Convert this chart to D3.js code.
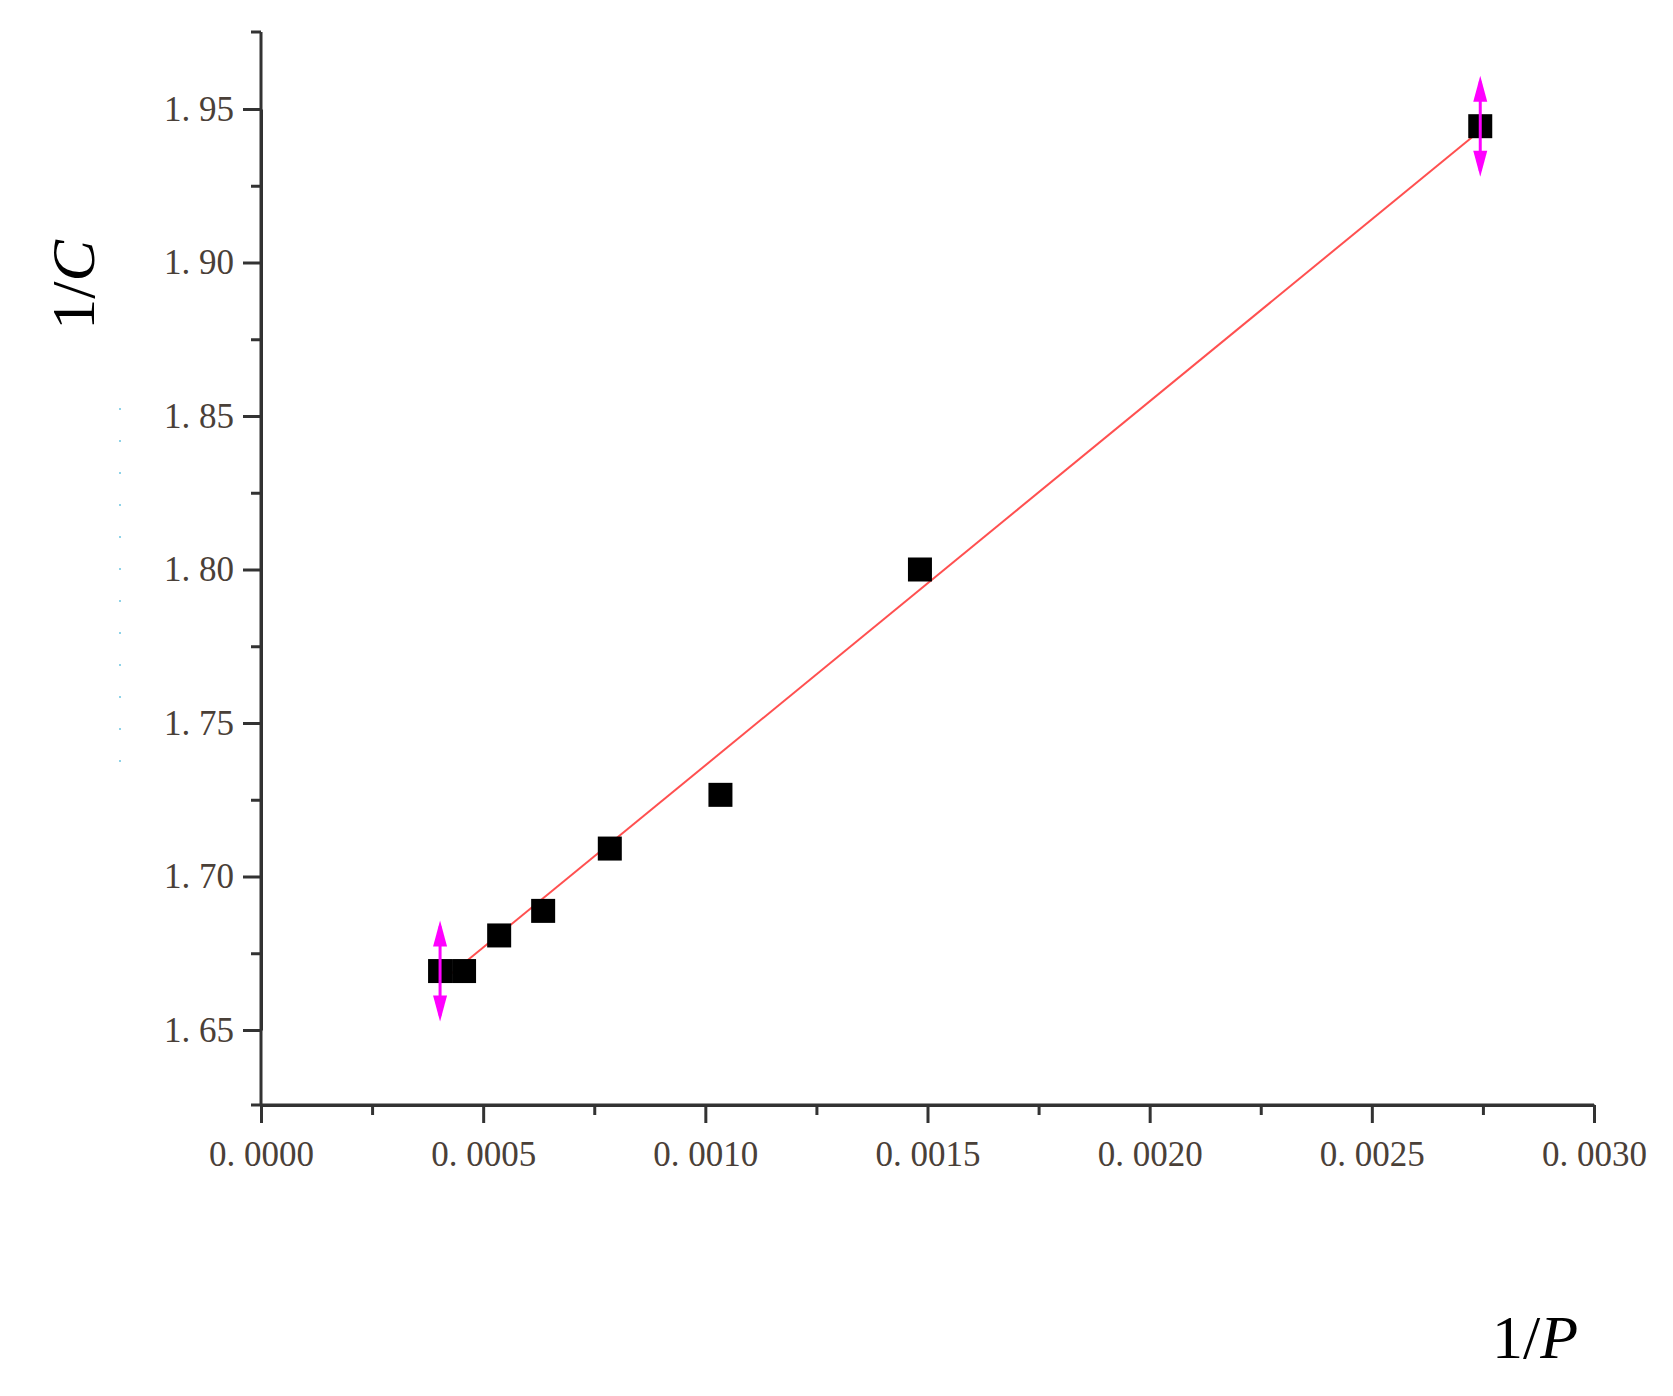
<!DOCTYPE html>
<html><head><meta charset="utf-8">
<script src="https://cdn.jsdelivr.net/npm/d3@7"></script>
<style>body{margin:0;background:#fff}</style>
</head><body>
<svg id="chart" width="1673" height="1396"></svg>
<script>
const xs = [0.000403, 0.000457, 0.000536, 0.000635, 0.000785, 0.001034, 0.001483, 0.002744]
const ys = [1.6692, 1.6692, 1.6808, 1.6888, 1.7091, 1.7266, 1.8000, 1.9444]
const fitX = [0.000403, 0.002744]
const fitY = [1.6654, 1.9430]
const errIdx = [0, 7]
const errSize = 0.0145
const xTicks = [0, 0.0005, 0.001, 0.0015, 0.002, 0.0025, 0.003]
const yTicks = [1.65, 1.70, 1.75, 1.80, 1.85, 1.90, 1.95]

const svg = d3.select('#chart')
const x = d3.scaleLinear().domain([0, 0.003]).range([261, 1594])
const y = d3.scaleLinear().domain([1.65, 1.95]).range([1030, 109])
const yBottom = 1105, yTop = 32

const fmtX = d => d3.format('.4f')(d).replace('.', '. ')
const fmtY = d => d3.format('.2f')(d).replace('.', '. ')

// axes
const xAxis = d3.axisBottom(x).tickValues(xTicks).tickFormat(fmtX).tickSize(18).tickSizeOuter(0)
const xMinor = d3.axisBottom(x).tickValues(d3.range(0.00025, 0.003, 0.0005)).tickFormat('').tickSize(10).tickSizeOuter(0)
const yAxis = d3.axisLeft(y).tickValues(yTicks).tickFormat(fmtY).tickSize(18).tickSizeOuter(0)
const yMinor = d3.axisLeft(y).tickValues(d3.range(1.675, 1.97, 0.05)).tickFormat('').tickSize(10).tickSizeOuter(0)

function styleAxis (g) {
  g.selectAll('path,line').attr('stroke', '#333').attr('stroke-width', 3)
  g.selectAll('text').attr('font-family', 'Liberation Serif, DejaVu Serif, serif')
    .attr('font-size', 35).attr('fill', '#4a4038')
}

svg.append('g').attr('transform', `translate(0,${yBottom})`).call(xMinor).call(styleAxis)
  .select('.domain').remove()
svg.append('g').attr('transform', `translate(0,${yBottom})`).call(xAxis).call(styleAxis)
  .selectAll('text').attr('dy', 40)
svg.append('g').attr('transform', `translate(${x(0)},0)`).call(yMinor).call(styleAxis)
  .select('.domain').remove()
svg.append('g').attr('transform', `translate(${x(0)},0)`).call(yAxis).call(styleAxis)
  .selectAll('text').attr('dx', -6)
// extend axis lines to full frame
svg.append('line').attr('x1', x(0)).attr('x2', x(0)).attr('y1', yTop).attr('y2', yBottom)
  .attr('stroke', '#333').attr('stroke-width', 3)
svg.append('line').attr('x1', x(0) - 10).attr('x2', x(0.003)).attr('y1', yBottom).attr('y2', yBottom)
  .attr('stroke', '#333').attr('stroke-width', 3)
svg.append('line').attr('x1', x(0) - 10).attr('x2', x(0)).attr('y1', yTop).attr('y2', yTop)
  .attr('stroke', '#333').attr('stroke-width', 3)

// faint dotted artefact
svg.append('line').attr('x1', 120).attr('x2', 120).attr('y1', 408).attr('y2', 790)
  .attr('stroke', '#8fd3e8').attr('stroke-width', 2).attr('stroke-dasharray', '2,30')

// fit line
svg.append('line').attr('x1', x(fitX[0])).attr('y1', y(fitY[0]))
  .attr('x2', x(fitX[1])).attr('y2', y(fitY[1]))
  .attr('stroke', '#ff5050').attr('stroke-width', 2)

// points
const s = 24
svg.append('g').selectAll('rect').data(xs).join('rect')
  .attr('x', d => x(d) - s / 2).attr('y', (d, i) => y(ys[i]) - s / 2)
  .attr('width', s).attr('height', s).attr('fill', '#000')

// error bars with arrow heads
const eb = svg.append('g').attr('fill', '#ff00ff').attr('stroke', '#ff00ff')
errIdx.forEach(i => {
  const cx = x(xs[i]), top = y(ys[i] + errSize), bot = y(ys[i] - errSize)
  eb.append('line').attr('x1', cx).attr('x2', cx).attr('y1', top).attr('y2', bot).attr('stroke-width', 3)
  eb.append('path').attr('stroke', 'none').attr('d', `M${cx},${top - 6}L${cx - 7},${top + 20}L${cx + 7},${top + 20}Z`)
  eb.append('path').attr('stroke', 'none').attr('d', `M${cx},${bot + 6}L${cx - 7},${bot - 20}L${cx + 7},${bot - 20}Z`)
})

// titles
const title = svg.append('text').attr('transform', 'translate(94,285) rotate(-90)')
  .attr('text-anchor', 'middle').attr('font-family', 'Liberation Serif, serif').attr('font-size', 62)
title.append('tspan').text('1/')
title.append('tspan').attr('font-style', 'italic').text('C')
const xt = svg.append('text').attr('x', 1535).attr('y', 1358)
  .attr('text-anchor', 'middle').attr('font-family', 'Liberation Serif, serif').attr('font-size', 62)
xt.append('tspan').text('1/')
xt.append('tspan').attr('font-style', 'italic').text('P')
</script>
</body></html>
